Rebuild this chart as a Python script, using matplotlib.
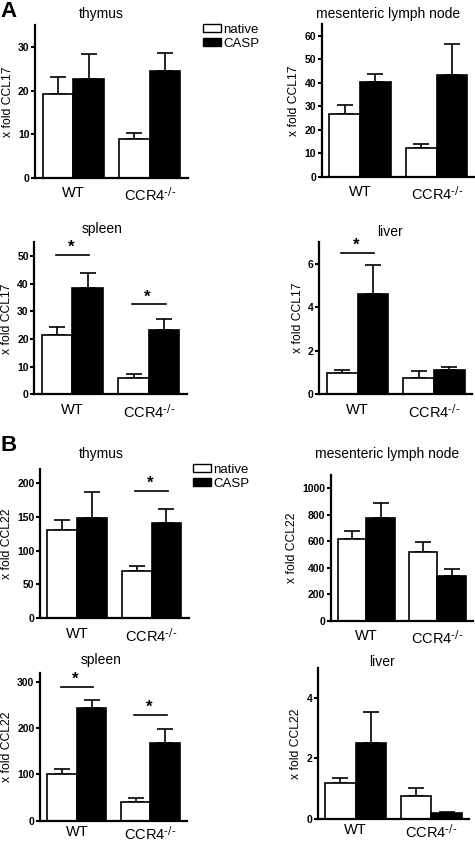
import matplotlib
matplotlib.use('Agg')
import matplotlib.pyplot as plt
from matplotlib.patches import Patch

plt.rcParams['font.family'] = ['Liberation Sans', 'DejaVu Sans']
plt.rcParams['mathtext.default'] = 'regular'

W, H = 475, 842
groups = ['WT', r'CCR4$^{\text{-/-}}$']

# panel A: CCL17
titles_A = ['thymus', 'mesenteric lymph node', 'spleen', 'liver']
ccl17_native = [[19.2, 9.0], [26.6, 12.1], [21.3, 6.0], [1.0, 0.77]]
ccl17_native_err = [[3.8, 1.4], [3.8, 1.8], [3.1, 1.5], [0.12, 0.29]]
ccl17_casp = [[22.7, 24.4], [40.1, 43.2], [38.3, 23.1], [4.58, 1.1]]
ccl17_casp_err = [[5.6, 4.2], [3.7, 13.3], [5.7, 4.2], [1.36, 0.16]]
ccl17_ylim = [35, 65, 55, 7]
ccl17_ticks = [[0, 10, 20, 30], [0, 10, 20, 30, 40, 50, 60],
               [0, 10, 20, 30, 40, 50], [0, 2, 4, 6]]
ccl17_sig = [[], [], [(0, 50.4), (1, 32.5)], [(0, 6.5)]]

# panel B: CCL22
titles_B = ['thymus', 'mesenteric lymph node', 'spleen', 'liver']
ccl22_native = [[130, 70], [614, 519], [100, 41], [1.2, 0.77]]
ccl22_native_err = [[15, 7.8], [66, 76], [11, 8], [0.17, 0.25]]
ccl22_casp = [[148, 141], [774, 336], [244, 167], [2.52, 0.19]]
ccl22_casp_err = [[39, 21], [117, 51], [18, 32], [1.0, 0.05]]
ccl22_ylim = [220, 1100, 320, 5]
ccl22_ticks = [[0, 50, 100, 150, 200], [0, 200, 400, 600, 800, 1000],
               [0, 100, 200, 300], [0, 2, 4]]
ccl22_sig = [[(1, 188)], [], [(0, 290), (1, 228)], []]

# axes boxes in pixels: left, top, right, bottom
boxes_A = [(35, 25, 188, 178), (321.7, 24, 475, 176.7),
           (34.3, 242.3, 187, 394.3), (319.3, 241.7, 472.3, 394.3)]
boxes_B = [(40, 469.3, 188.7, 618.3), (330.7, 475, 473, 620.7),
           (40, 672.7, 187.3, 820.7), (317.7, 667.7, 469.3, 819)]
title_pos_A = [(101, 14), (388, 14), (101.7, 229.5), (389.7, 232)]
title_pos_B = [(101, 454), (387, 454), (101, 660), (382.5, 662)]

fig = plt.figure(figsize=(W / 100, H / 100), dpi=100)

centers = [0.25, 0.75]
bw = 0.2


def panel(box, tpos, title, nat, nat_e, casp, casp_e, ylim, ticks, sig, ylabel, xpad):
    l, t, r, b = box
    ax = fig.add_axes([l / W, 1 - b / H, (r - l) / W, (b - t) / H])
    xn = [c - bw / 2 for c in centers]
    xc = [c + bw / 2 for c in centers]
    ax.bar(xn, nat, bw, color='white', edgecolor='black', lw=1.2, zorder=2)
    ax.bar(xc, casp, bw, color='black', edgecolor='black', lw=1.2, zorder=2)
    ax.errorbar(xn, nat, yerr=[[0, 0], nat_e], fmt='none', ecolor='black',
                elinewidth=1.2, capsize=5.5, capthick=1.2, zorder=1)
    ax.errorbar(xc, casp, yerr=[[0, 0], casp_e], fmt='none', ecolor='black',
                elinewidth=1.2, capsize=5.5, capthick=1.2, zorder=1)
    for g, yv in sig:
        c = centers[g]
        ax.plot([c - 0.11, c + 0.11], [yv, yv], color='black', lw=1.2, clip_on=False)
        ax.text(c - 0.01, yv, '*', ha='center', va='bottom', fontsize=12,
                fontweight='bold')
    ax.set_xlim(0, 1)
    ax.set_ylim(0, ylim)
    ax.set_yticks(ticks)
    ax.set_xticks(centers)
    ax.set_xticklabels(groups, fontsize=10.5)
    ax.tick_params(axis='x', length=0, pad=xpad)
    ax.tick_params(axis='y', length=3, width=1.5, pad=1, labelsize=7.5)
    for lab in ax.get_yticklabels():
        lab.set_fontweight('bold')
    for s in ['top', 'right']:
        ax.spines[s].set_visible(False)
    for s in ['left', 'bottom']:
        ax.spines[s].set_linewidth(1.6)
    ax.set_ylabel(ylabel, fontsize=8.7, labelpad=3)
    fig.text(tpos[0] / W, 1 - tpos[1] / H, title, ha='center', va='center',
             fontsize=10)
    return ax


for i in range(4):
    panel(boxes_A[i], title_pos_A[i], titles_A[i], ccl17_native[i],
          ccl17_native_err[i], ccl17_casp[i], ccl17_casp_err[i],
          ccl17_ylim[i], ccl17_ticks[i], ccl17_sig[i], 'x fold CCL17', 6)
    panel(boxes_B[i], title_pos_B[i], titles_B[i], ccl22_native[i],
          ccl22_native_err[i], ccl22_casp[i], ccl22_casp_err[i],
          ccl22_ylim[i], ccl22_ticks[i], ccl22_sig[i], 'x fold CCL22',
          6 if i < 2 else 3)

handles = [Patch(facecolor='white', edgecolor='black', lw=1),
           Patch(facecolor='black', edgecolor='black', lw=1)]
for lx, ty in [(203, 24), (193, 464)]:
    fig.legend(handles, ['native', 'CASP'], loc='upper left',
               bbox_to_anchor=(lx / W, 1 - ty / H), frameon=False, fontsize=9.5,
               handlelength=1.4, handleheight=0.55, handletextpad=0.15,
               labelspacing=0.15, borderpad=0, borderaxespad=0)

fig.text(0 / W, 1 - 1 / H, 'A', fontsize=16, fontweight='bold', ha='left', va='top')
fig.text(0 / W, 1 - 435 / H, 'B', fontsize=16, fontweight='bold', ha='left', va='top')

fig.savefig('out.png', dpi=100)
